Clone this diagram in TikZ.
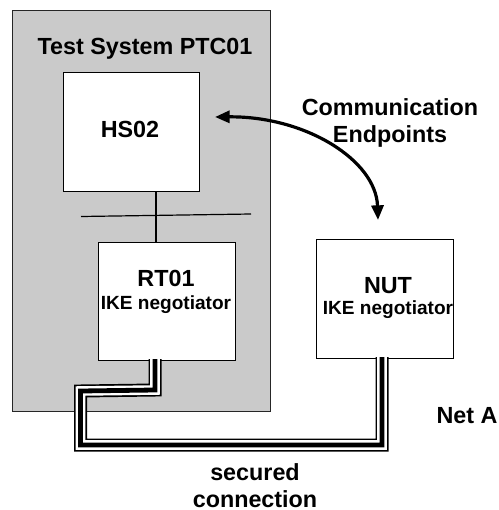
\documentclass[tikz,border=0pt]{standalone}
\usepackage{fontspec}
\setmainfont{Liberation Sans}
\usetikzlibrary{arrows.meta}
\definecolor{sysgray}{RGB}{202,202,202}
\begin{document}
\begin{tikzpicture}[x=0.75pt,y=-0.75pt,
  lbl/.style={font=\bfseries\fontsize{17.5}{20}\selectfont, anchor=base, inner sep=0pt},
  sublbl/.style={font=\bfseries\fontsize{14.3}{16}\selectfont, anchor=base, inner sep=0pt},
  box/.style={draw=black, line width=0.9pt, fill=white, inner sep=0pt, anchor=north west},
  sysbox/.style={draw=black!85, line width=0.9pt, fill=sysgray, inner sep=0pt, anchor=north west},
  thinline/.style={draw=black, line width=0.9pt},
  epArrow/.style={line width=2.4pt, {Triangle[length=11pt,width=9pt]}-{Triangle[length=11pt,width=9pt]}},
  cableOut/.style={line width=9.75pt, black, line join=miter},
  cableGap/.style={line width=7.2pt, white, line join=miter},
  cableIn/.style={line width=3.6pt, black, line join=miter}
]
\useasboundingbox (0,0) rectangle (499,510);

% test system
\node[sysbox, minimum width=193.5pt, minimum height=300.75pt] (sys) at (12,10) {};
\node[lbl] (systitle) at (145,55) {Test System PTC01};

% boxes
\node[box, minimum width=102pt, minimum height=89.25pt] (hs) at (63,72) {};
\node[box, minimum width=102.75pt, minimum height=88.5pt] (rt) at (98,242) {};
\node[box, minimum width=102.75pt, minimum height=89.25pt] (nut) at (316,239) {};

\node[lbl] (hstext) at (130,137) {HS02};
\node[lbl] (rttext) at (166,286) {RT01};
\node[sublbl] (rtsub) at (166,309) {IKE negotiator};
\node[lbl] (nuttext) at (388,293) {NUT};
\node[sublbl] (nutsub) at (388,314) {IKE negotiator};

% bus
\coordinate (busx) at (156,0);
\coordinate (busL) at (81,216.5);
\coordinate (busR) at (251,214);
\draw[thinline] (hs.south -| busx) -- (rt.north -| busx);
\draw[thinline] (busL) -- (busR);

% communication endpoints arrow
\coordinate (ep1) at (215,117);
\coordinate (ep2) at (378,220);
\draw[epArrow] (ep1) .. controls (305,116) and (376,160) .. (ep2);
\node[lbl] (comm1) at (390,115) {Communication};
\node[lbl] (comm2) at (390,142) {Endpoints};

% secured connection cable
\coordinate (cA) at (155,359);
\coordinate (cB) at (155,390);
\coordinate (cC) at (80.5,391);
\coordinate (cD) at (80.5,445);
\coordinate (cE) at (382,445);
\coordinate (cF) at (382,357);
\foreach \st in {cableOut,cableGap,cableIn}{
  \draw[\st] (cA) -- (cB) -- (cC) -- (cD) -- (cE) -- (cF);
}

\node[lbl] (neta) at (467,423) {Net A};
\node[lbl] (sec1) at (255,480) {secured};
\node[lbl] (sec2) at (255,507) {connection};
\end{tikzpicture}
\end{document}
